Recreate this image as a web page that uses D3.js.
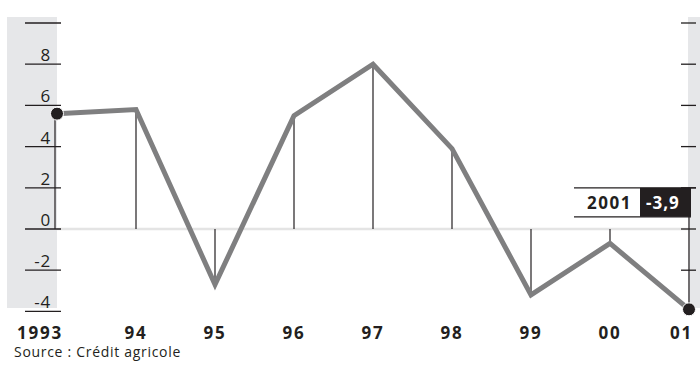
<!DOCTYPE html>
<html>
<head>
<meta charset="utf-8">
<script src="https://cdn.jsdelivr.net/npm/d3@7/dist/d3.min.js"></script>
<style>
  html, body { margin: 0; padding: 0; background: #fff; }
  svg { display: block; font-family: "Open Sans", sans-serif; }
</style>
</head>
<body>
<svg id="chart" width="700" height="365"></svg>
<script>
// Annual growth, 1993–2001
const years = [1993, 1994, 1995, 1996, 1997, 1998, 1999, 2000, 2001];
const yearLabels = ["1993", "94", "95", "96", "97", "98", "99", "00", "01"];
const values = [5.6, 5.8, -2.7, 5.5, 8.0, 3.9, -3.2, -0.7, -3.9];
const yTicks = [10, 8, 6, 4, 2, 0, -2, -4];
const yTickLabels = ["", "8", "6", "4", "2", "0", "-2", "-4"];
const rightTicks = [10, 8, 6, 4, 2, 0, -2];
const lastLabel = "2001";
const lastValueText = "-3,9";
const sourceText = "Source : Crédit agricole";

const svg = d3.select("#chart");
const x = d3.scaleLinear().domain([1993, 2001]).range([57, 689]);
const y = d3.scaleLinear().domain([-4, 10]).range([311.4, 23]);

const grey = "#e6e7e9";
const ink = "#231f20";

// side bands
svg.append("rect").attr("x", 7).attr("y", 17).attr("width", 50).attr("height", 291).attr("fill", grey);
svg.append("rect").attr("x", 688).attr("y", 17).attr("width", 12).attr("height", 291).attr("fill", grey);

// zero line
svg.append("line")
  .attr("x1", x(1993)).attr("x2", x(2001))
  .attr("y1", y(0)).attr("y2", y(0))
  .attr("stroke", "#e4e4e4").attr("stroke-width", 2.5);

// left axis ticks and labels
const leftAxis = svg.append("g");
leftAxis.selectAll("line").data(yTicks).join("line")
  .attr("x1", 25).attr("x2", 61)
  .attr("y1", d => y(d)).attr("y2", d => y(d))
  .attr("stroke", ink).attr("stroke-width", 1.3);
leftAxis.selectAll("text").data(yTicks).join("text")
  .attr("x", 51).attr("y", d => y(d) - 3)
  .attr("text-anchor", "end")
  .attr("font-size", 17)
  .attr("letter-spacing", 0.8)
  .attr("fill", ink)
  .text((d, i) => yTickLabels[i]);

// right axis ticks
svg.append("g").selectAll("line").data(rightTicks).join("line")
  .attr("x1", 681).attr("x2", 696)
  .attr("y1", d => y(d)).attr("y2", d => y(d))
  .attr("stroke", ink).attr("stroke-width", 1.3);

// drop lines from the zero line to each point
svg.append("g").selectAll("line").data(years.slice(0, -1)).join("line")
  .attr("x1", (d, i) => x(d) - (i === 0 ? 2 : 0))
  .attr("x2", (d, i) => x(d) - (i === 0 ? 2 : 0))
  .attr("y1", y(0))
  .attr("y2", (d, i) => y(values[i]))
  .attr("stroke", ink).attr("stroke-width", 1.2);

// last value marker stem
const last = values.length - 1;
svg.append("line")
  .attr("x1", x(years[last])).attr("x2", x(years[last]))
  .attr("y1", y(2)).attr("y2", y(values[last]))
  .attr("stroke", ink).attr("stroke-width", 1.2);

// series line
svg.append("path")
  .datum(values)
  .attr("d", d3.line().x((d, i) => x(years[i])).y(d => y(d)))
  .attr("fill", "none")
  .attr("stroke", "#7f7f80")
  .attr("stroke-width", 5)
  .attr("stroke-linejoin", "miter");

// end dots
svg.append("g").selectAll("circle").data([0, last]).join("circle")
  .attr("cx", i => x(years[i]))
  .attr("cy", i => y(values[i]))
  .attr("r", 6.5)
  .attr("fill", ink)
  .attr("stroke", "#fff").attr("stroke-width", 1);

// value tag for the latest year
const tagTop = y(2), tagBottom = y(2) + 29;
const tag = svg.append("g");
tag.append("rect").attr("x", 574).attr("y", tagTop).attr("width", 66).attr("height", 29).attr("fill", "#fff");
tag.append("rect").attr("x", 640).attr("y", tagTop).attr("width", 51).attr("height", 29).attr("fill", ink);
tag.append("line").attr("x1", 574).attr("x2", 696).attr("y1", tagTop).attr("y2", tagTop)
  .attr("stroke", ink).attr("stroke-width", 1.3);
tag.append("line").attr("x1", 574).attr("x2", 691).attr("y1", tagBottom).attr("y2", tagBottom)
  .attr("stroke", ink).attr("stroke-width", 1.3);
tag.append("text").attr("x", 632).attr("y", tagTop + 21)
  .attr("text-anchor", "end").attr("font-size", 17).attr("font-weight", 700)
  .attr("letter-spacing", 1.5)
  .attr("fill", ink).text(lastLabel);
tag.append("text").attr("x", 646).attr("y", tagTop + 21)
  .attr("text-anchor", "start").attr("font-size", 17).attr("font-weight", 700)
  .attr("letter-spacing", 1)
  .attr("fill", "#fff").text(lastValueText);

// year labels
svg.append("g").selectAll("text").data(years).join("text")
  .attr("x", (d, i) => i === 0 ? x(d) + 6 : i === last ? x(d) + 4 : x(d))
  .attr("y", 339)
  .attr("text-anchor", (d, i) => (i === 0 || i === last) ? "end" : "middle")
  .attr("font-size", 17)
  .attr("font-weight", 700)
  .attr("letter-spacing", 1.8)
  .attr("fill", ink)
  .text((d, i) => yearLabels[i]);

// source
svg.append("text")
  .attr("x", 14).attr("y", 357)
  .attr("font-size", 14)
  .attr("letter-spacing", 0.7)
  .attr("fill", ink)
  .text(sourceText);
</script>
</body>
</html>
